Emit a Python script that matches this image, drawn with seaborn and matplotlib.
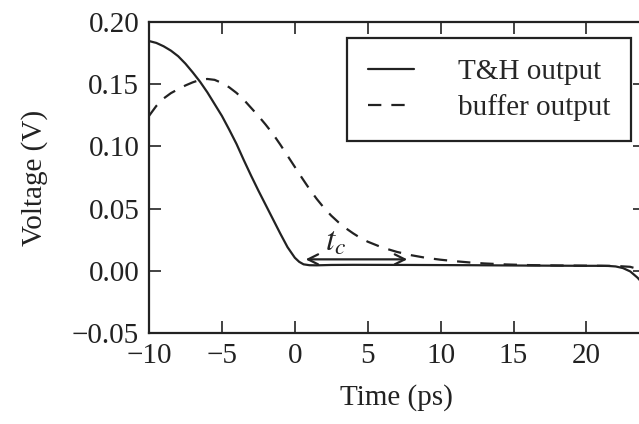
import numpy as np
import pandas as pd
import seaborn as sns
import matplotlib.pyplot as plt

# T&H output (solid)
t_th = [-10, -9.5, -9, -8.5, -8, -7.5, -7, -6.5, -6, -5.5, -5, -4.5, -4, -3.5, -3,
        -2.5, -2, -1.5, -1, -0.5, 0, 0.3, 0.6, 1, 1.5, 2.5, 4, 8, 12, 16, 20, 21,
        21.5, 22, 22.5, 23, 23.5, 24]
v_th = [0.1847, 0.1832, 0.1805, 0.1770, 0.1725, 0.1665, 0.1595, 0.1520, 0.1435,
        0.1340, 0.1245, 0.1135, 0.1020, 0.0890, 0.0765, 0.0645, 0.0530, 0.0415,
        0.0300, 0.0190, 0.0105, 0.0072, 0.0052, 0.0045, 0.0044, 0.0047, 0.0048,
        0.0047, 0.0045, 0.0042, 0.0040, 0.0040, 0.0039, 0.0035, 0.0022, -0.0005,
        -0.0055, -0.0120]

# buffer output (dashed)
t_buf = [-10, -9.5, -9, -8.5, -8, -7.5, -7, -6.5, -6, -5.5, -5, -4.5, -4, -3.5, -3,
         -2.5, -2, -1.5, -1, -0.5, 0, 0.5, 1, 1.5, 2, 2.5, 3, 3.5, 4, 4.5, 5, 6, 7,
         8, 9, 10, 11, 12, 13, 14.5, 16, 18, 20, 22, 23, 23.5, 24]
v_buf = [0.1245, 0.1325, 0.1385, 0.1428, 0.1460, 0.1490, 0.1515, 0.1535, 0.1542,
         0.1535, 0.1510, 0.1475, 0.1430, 0.1375, 0.1310, 0.1245, 0.1175, 0.1100,
         0.1015, 0.0925, 0.0835, 0.0745, 0.0658, 0.0578, 0.0506, 0.0443, 0.0389,
         0.0342, 0.0301, 0.0264, 0.0234, 0.0187, 0.0152, 0.0125, 0.0104, 0.0089,
         0.0077, 0.0067, 0.0059, 0.0051, 0.0046, 0.0043, 0.0041, 0.0039, 0.0032,
         0.0015, -0.0020]

x_ticks = [-10, -5, 0, 5, 10, 15, 20]
y_ticks = [-0.05, 0.00, 0.05, 0.10, 0.15, 0.20]

sns.set_style("ticks")
plt.rcParams['font.family'] = ['Liberation Serif', 'DejaVu Serif']
plt.rcParams['mathtext.fontset'] = 'stix'
fs = 21

fig = plt.figure(figsize=(6.39, 4.24), dpi=100)
ax = fig.add_axes([149 / 639, 91 / 424, (644.8 - 149) / 639, 311 / 424])

ink = '#222222'
df_th = pd.DataFrame({'t': t_th, 'v': v_th})
df_buf = pd.DataFrame({'t': t_buf, 'v': v_buf})
sns.lineplot(data=df_th, x='t', y='v', ax=ax, color=ink, lw=1.6, label='T&H output')
sns.lineplot(data=df_buf, x='t', y='v', ax=ax, color=ink, lw=1.6,
             linestyle=(0, (6, 4.5)), label='buffer output')

ax.set_xlim(-10, 24)
ax.set_ylim(-0.05, 0.20)
ax.set_xticks(x_ticks)
ax.set_yticks(y_ticks)
ax.set_yticklabels([f'{v:.2f}'.replace('-', '\u2212') for v in y_ticks])
ax.set_xticklabels([str(v).replace('-', '\u2212') for v in x_ticks])
ax.tick_params(direction='in', length=8.5, width=1.2, top=True, right=True,
               pad=7, labelsize=fs, colors=ink)
for s in ax.spines.values():
    s.set_linewidth(1.6)
    s.set_color(ink)

ax.set_xlabel('Time (ps)', labelpad=11, fontsize=fs, color=ink)
ax.set_ylabel('Voltage (V)', labelpad=17, fontsize=fs, color=ink)

ax.annotate('', xy=(0.55, 0.0092), xytext=(7.9, 0.0092),
            arrowprops=dict(arrowstyle='<->', color=ink, lw=1.6, mutation_scale=18))
ax.text(2.8, 0.0165, r'$t_c$', fontsize=24, color=ink, ha='center', va='baseline')

leg = ax.legend(loc='upper right', bbox_to_anchor=(0.9716, 0.9476), borderaxespad=0,
                fancybox=False, framealpha=1, edgecolor=ink, fontsize=fs,
                handlelength=1.6, handletextpad=1.5, borderpad=0.7, labelspacing=0.3)
leg.get_frame().set_linewidth(1.6)

fig.savefig('out.png', dpi=100)
